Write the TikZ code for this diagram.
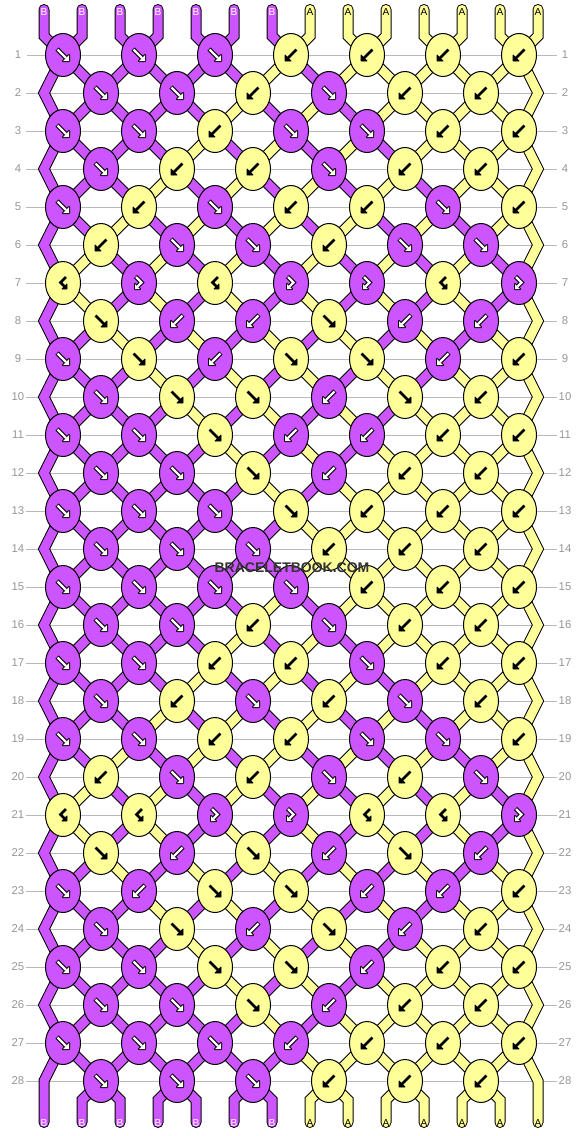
\documentclass[tikz,border=0pt]{standalone}
\usepackage{fontspec}
\setmainfont{Liberation Sans}
\usepackage{tikz}
\usetikzlibrary{shapes.geometric}
\definecolor{violetB}{RGB}{204,85,255}
\definecolor{yellowA}{RGB}{255,255,153}
\definecolor{rulegray}{RGB}{185,185,185}
\definecolor{labelgray}{RGB}{150,150,150}
\pgfdeclarelayer{gridlayer}
\pgfdeclarelayer{threadlayer}
\pgfsetlayers{gridlayer,threadlayer,main}
\tikzset{every picture/.style={line width=0.75pt}}
\tikzset{
  knotB/.style={ellipse, draw=black, fill=violetB, minimum width=26.25pt, minimum height=32.25pt, inner sep=0pt},
  knotA/.style={ellipse, draw=black, fill=yellowA, minimum width=26.25pt, minimum height=32.25pt, inner sep=0pt},
  th1B/.style={draw=black, line width=8.25pt, line cap=round, line join=miter},
  th1A/.style={draw=black, line width=8.25pt, line cap=round, line join=miter},
  th2B/.style={draw=violetB, line width=6.75pt, line cap=round, line join=miter},
  th2A/.style={draw=yellowA, line width=6.75pt, line cap=round, line join=miter},
  gridline/.style={draw=rulegray, line width=0.75pt},
  rowlabel/.style={font=\fontsize{8.5pt}{10pt}\selectfont, text=labelgray, minimum width=12pt, inner sep=0pt},
  endlabelB/.style={font=\fontsize{7.6pt}{9pt}\selectfont, text=white, inner sep=0pt},
  endlabelA/.style={font=\fontsize{7.6pt}{9pt}\selectfont, text=black, inner sep=0pt},
  arrowrim/.style={draw=black, line width=3.3pt, line cap=butt, line join=miter},
  arrowwhite/.style={draw=white, line width=1.8pt, line cap=butt, line join=miter},
  arrowblack/.style={draw=black, line width=2.1pt, line cap=butt, line join=miter},
  headrim/.style={fill=black, draw=black, line width=1.5pt, line join=round},
  headblack/.style={fill=black, draw=black, line width=0.6pt, line join=round},
  % knot symbols, white on violet, black on yellow
  pics/fB/.style={code={
    \draw[arrowrim] (-6,-6) -- (3,3);
    \filldraw[headrim] (6,6) -- (0,6) -- (6,0) -- cycle;
    \draw[arrowwhite] (-5.5,-5.5) -- (3,3);
    \fill[white] (6,6) -- (0,6) -- (6,0) -- cycle;
  }},
  pics/bB/.style={code={
    \draw[arrowrim] (6,-6) -- (-3,3);
    \filldraw[headrim] (-6,6) -- (0,6) -- (-6,0) -- cycle;
    \draw[arrowwhite] (5.5,-5.5) -- (-3,3);
    \fill[white] (-6,6) -- (0,6) -- (-6,0) -- cycle;
  }},
  pics/fbB/.style={code={
    \draw[arrowrim] (-3.5,-6.5) -- (2.5,-0.5) -- (-1.5,3.5);
    \filldraw[headrim] (-4,6) -- (-4,1) -- (1,6) -- cycle;
    \draw[arrowwhite] (-3,-6) -- (2.5,-0.5) -- (-1.5,3.5);
    \fill[white] (-4,6) -- (-4,1) -- (1,6) -- cycle;
  }},
  pics/fA/.style={code={
    \draw[arrowblack] (-5.5,-5.5) -- (3,3);
    \filldraw[headblack] (6,6) -- (0,6) -- (6,0) -- cycle;
  }},
  pics/bA/.style={code={
    \draw[arrowblack] (5.5,-5.5) -- (-3,3);
    \filldraw[headblack] (-6,6) -- (0,6) -- (-6,0) -- cycle;
  }},
  pics/bfA/.style={code={
    \draw[arrowblack] (3,-6) -- (-2.5,-0.5) -- (1.5,3.5);
    \filldraw[headblack] (4,6) -- (4,1) -- (-1,6) -- cycle;
  }}
}

\begin{document}
\begin{tikzpicture}[x=0.75pt,y=0.75pt,yscale=-1,xscale=1]
\useasboundingbox (0,0) rectangle (582,1136);

% string ends and edge turning points
\foreach \k in {0,...,13}{
  \coordinate (top\k) at ({44+38*\k},9.5);
  \coordinate (tb\k) at ({44+38*\k},36);
  \coordinate (bb\k) at ({44+38*\k},1100);
  \coordinate (bot\k) at ({44+38*\k},1122.5);
}
\foreach \r in {2,4,...,28}{
  \coordinate (s\r-0) at (44,{17+38*\r});
  \coordinate (s\r-13) at (538,{17+38*\r});
}

% knots, row by row (colour/knot)
\foreach \r/\knots in {
  1/{B/f,B/f,B/f,A/b,A/b,A/b,A/b},
  2/{B/f,B/f,A/b,B/f,A/b,A/b},
  3/{B/f,B/f,A/b,B/f,B/f,A/b,A/b},
  4/{B/f,A/b,A/b,B/f,A/b,A/b},
  5/{B/f,A/b,B/f,A/b,A/b,B/f,A/b},
  6/{A/b,B/f,B/f,A/b,B/f,B/f},
  7/{A/bf,B/fb,A/bf,B/fb,B/fb,A/bf,B/fb},
  8/{A/f,B/b,B/b,A/f,B/b,B/b},
  9/{B/f,A/f,B/b,A/f,A/f,B/b,A/b},
  10/{B/f,A/f,A/f,B/b,A/f,A/b},
  11/{B/f,B/f,A/f,B/b,B/b,A/b,A/b},
  12/{B/f,B/f,A/f,B/b,A/b,A/b},
  13/{B/f,B/f,B/f,A/f,A/b,A/b,A/b},
  14/{B/f,B/f,B/f,A/b,A/b,A/b},
  15/{B/f,B/f,B/f,B/f,A/b,A/b,A/b},
  16/{B/f,B/f,A/b,B/f,A/b,A/b},
  17/{B/f,B/f,A/b,A/b,B/f,A/b,A/b},
  18/{B/f,A/b,B/f,A/b,B/f,A/b},
  19/{B/f,B/f,A/b,A/b,B/f,B/f,A/b},
  20/{A/b,B/f,A/b,B/f,A/b,B/f},
  21/{A/bf,A/bf,B/fb,B/fb,A/bf,A/bf,B/fb},
  22/{A/f,B/b,A/f,B/b,A/f,B/b},
  23/{B/f,B/b,A/f,A/f,B/b,B/b,A/b},
  24/{B/f,A/f,B/b,A/f,B/b,A/b},
  25/{B/f,B/f,A/f,A/f,B/b,A/b,A/b},
  26/{B/f,B/f,A/f,B/b,A/b,A/b},
  27/{B/f,B/f,B/f,B/b,A/b,A/b,A/b},
  28/{B/f,B/f,B/f,A/b,A/b,A/b}}{
  \pgfmathtruncatemacro\yy{17+38*\r}
  \ifodd\r\relax \def\xo{63}\def\ko{0}\else \def\xo{101}\def\ko{1}\fi
  \foreach \c/\a [count=\i from 0] in \knots{
    \pgfmathtruncatemacro\xx{\xo+76*\i}
    \pgfmathtruncatemacro\ka{\ko+2*\i}
    \pgfmathtruncatemacro\kb{\ka+1}
    \node[knot\c, alias=s\r-\ka, alias=s\r-\kb] (k\r-\i) at (\xx,\yy) {};
    \pic[yscale=-1] at (k\r-\i) {\a\c};
  }
}

% row numbers and rules
\foreach \r in {1,...,28}{
  \node[rowlabel] (ll\r) at (18,{17+38*\r}) {\r};
  \node[rowlabel] (lr\r) at (565,{17+38*\r}) {\r};
  \begin{pgfonlayer}{gridlayer}
    \draw[gridline] (ll\r) -- (lr\r);
  \end{pgfonlayer}
}

% string letters
\foreach \k in {0,...,13}{
  \ifnum\k<7 \def\c{B}\else \def\c{A}\fi
  \node[endlabel\c] (lt\k) at ({44+38*\k},12) {\c};
  \node[endlabel\c] (lb\k) at ({44+38*\k},1123) {\c};
}

% threads: black rim first, then colour
\begin{pgfonlayer}{threadlayer}
\foreach \pass in {1,2}{
  \draw[th\pass B] (top0) -- (tb0) foreach \r in {1,...,28}{ -- (s\r-0.center)} -- (bot0);
  \draw[th\pass A] (top13) -- (tb13) foreach \r in {1,...,28}{ -- (s\r-13.center)} -- (bot13);
  \foreach \k in {1,...,12}{
    \ifnum\k<7 \def\c{B}\else \def\c{A}\fi
    \draw[th\pass\c] (top\k) -- (tb\k) -- (s1-\k.center);
    \draw[th\pass\c] (s28-\k.center) -- (bb\k) -- (bot\k);
  }
  \foreach \r/\cols in {
    1/{B,B,B,B,B,B,A,B,A,A,A,A,A,A},
    2/{B,B,B,B,B,A,B,A,B,A,A,A,A,A},
    3/{B,B,B,B,A,B,A,B,A,B,A,A,A,A},
    4/{B,B,B,A,B,A,B,A,B,A,B,A,A,A},
    5/{B,B,A,B,A,B,A,B,A,B,A,B,A,A},
    6/{B,A,B,A,B,A,B,A,B,A,B,A,B,A},
    7/{B,A,B,A,B,A,B,A,B,A,B,A,B,A},
    8/{B,B,A,B,A,B,A,B,A,B,A,B,A,A},
    9/{B,B,B,A,B,A,B,A,B,A,B,A,A,A},
    10/{B,B,B,B,A,B,A,B,A,B,A,A,A,A},
    11/{B,B,B,B,B,A,B,A,B,A,A,A,A,A},
    12/{B,B,B,B,B,B,A,B,A,A,A,A,A,A},
    13/{B,B,B,B,B,B,B,A,A,A,A,A,A,A},
    14/{B,B,B,B,B,B,B,A,A,A,A,A,A,A},
    15/{B,B,B,B,B,B,A,B,A,A,A,A,A,A},
    16/{B,B,B,B,B,A,B,A,B,A,A,A,A,A},
    17/{B,B,B,B,A,B,A,B,A,B,A,A,A,A},
    18/{B,B,B,A,B,A,B,A,B,A,B,A,A,A},
    19/{B,B,A,B,A,B,A,B,A,B,A,B,A,A},
    20/{B,A,B,A,B,A,B,A,B,A,B,A,B,A},
    21/{B,A,B,A,B,A,B,A,B,A,B,A,B,A},
    22/{B,B,A,B,A,B,A,B,A,B,A,B,A,A},
    23/{B,B,B,A,B,A,B,A,B,A,B,A,A,A},
    24/{B,B,B,B,A,B,A,B,A,B,A,A,A,A},
    25/{B,B,B,B,B,A,B,A,B,A,A,A,A,A},
    26/{B,B,B,B,B,B,A,B,A,A,A,A,A,A},
    27/{B,B,B,B,B,B,B,A,A,A,A,A,A,A}}{
    \pgfmathtruncatemacro\rn{\r+1}
    \foreach \c [count=\k from 0] in \cols{
      \ifnum\k>0 \ifnum\k<13
        \draw[th\pass\c] (s\r-\k.center) -- (s\rn-\k.center);
      \fi\fi
    }
  }
}
\end{pgfonlayer}

% watermark
\node[font=\bfseries\fontsize{10.5pt}{12pt}\selectfont, text=black!80, inner sep=0pt] (mark) at (292,568) {BRACELETBOOK.COM};

\end{tikzpicture}
\end{document}
